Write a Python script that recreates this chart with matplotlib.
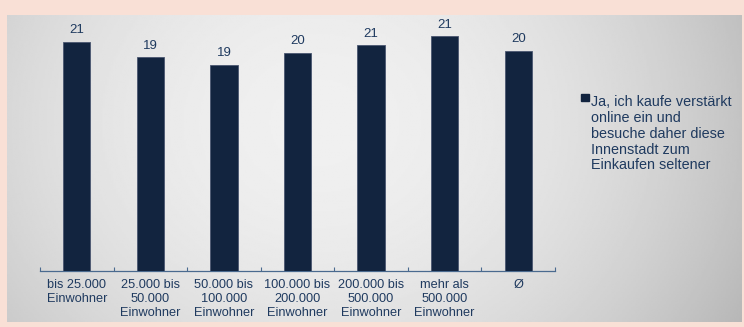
import numpy as np
import matplotlib.pyplot as plt
from matplotlib.patches import Rectangle

categories = ['bis 25.000\nEinwohner', '25.000 bis\n50.000\nEinwohner', '50.000 bis\n100.000\nEinwohner',
              '100.000 bis\n200.000\nEinwohner', '200.000 bis\n500.000\nEinwohner', 'mehr als\n500.000\nEinwohner',
              'Ø']
values = [20.9, 19.5, 18.8, 19.9, 20.6, 21.4, 20.1]
labels = ['21', '19', '19', '20', '21', '21', '20']
series_name = 'Ja, ich kaufe verstärkt\nonline ein und\nbesuche daher diese\nInnenstadt zum\nEinkaufen seltener'

bar_color = '#12243f'
text_color = '#1f3a5f'
plt.rcParams['font.family'] = ['Liberation Sans', 'DejaVu Sans']

W, H = 744, 327
fig = plt.figure(figsize=(W / 100, H / 100), dpi=100, facecolor='#f9e0d6')

# grey gradient panel
bg = fig.add_axes([7 / W, 5 / H, 735 / W, 307 / H])
x = np.linspace(-1, 1, 400)
y = np.linspace(-1, 1, 200)
X, Y = np.meshgrid(x, y)
shade = 0.94 - 0.13 * ((X + 0.15) ** 2) - 0.03 * (Y + 0.3) ** 2
bg.imshow(shade, cmap='gray', vmin=0, vmax=1, aspect='auto', extent=[0, 1, 0, 1])
bg.set_axis_off()

ax = fig.add_axes([40 / W, 56 / H, 515 / W, 251 / H])
ax.patch.set_alpha(0)
pos = np.arange(len(categories))
bars = ax.bar(pos, values, width=0.37, color=bar_color, edgecolor='#4a5670', linewidth=0.6, zorder=3)
for b, lab in zip(bars, labels):
    ax.annotate(lab, (b.get_x() + b.get_width() / 2, b.get_height()), xytext=(0, 4),
                textcoords='offset points', ha='center', va='bottom', fontsize=9.5, color=text_color)

ax.set_xlim(-0.5, len(categories) - 0.5)
ax.set_ylim(0, 22.9)
ax.set_yticks([])
ax.set_xticks(np.arange(len(categories) + 1) - 0.5)
ax.set_xticklabels([])
ax.set_xticks(pos, minor=True)
ax.set_xticklabels(categories, minor=True, fontsize=9.2, color=text_color, linespacing=1.22)
ax.tick_params(axis='x', which='major', direction='in', length=3, color='#4a6a8f', width=0.8)
ax.tick_params(axis='x', which='minor', length=0, pad=6)
for s in ['top', 'right', 'left']:
    ax.spines[s].set_visible(False)
ax.spines['bottom'].set_color('#4a6a8f')
ax.spines['bottom'].set_linewidth(0.9)

# legend
fig.patches.append(Rectangle((581 / W, 1 - 101 / H), 7.5 / W, 7.5 / H, transform=fig.transFigure,
                             color=bar_color, figure=fig))
fig.text(591 / W, 1 - 95 / H, series_name, ha='left', va='top', fontsize=10.4, color=text_color,
         linespacing=1.17)

fig.savefig('out.png', dpi=100, facecolor=fig.get_facecolor())
